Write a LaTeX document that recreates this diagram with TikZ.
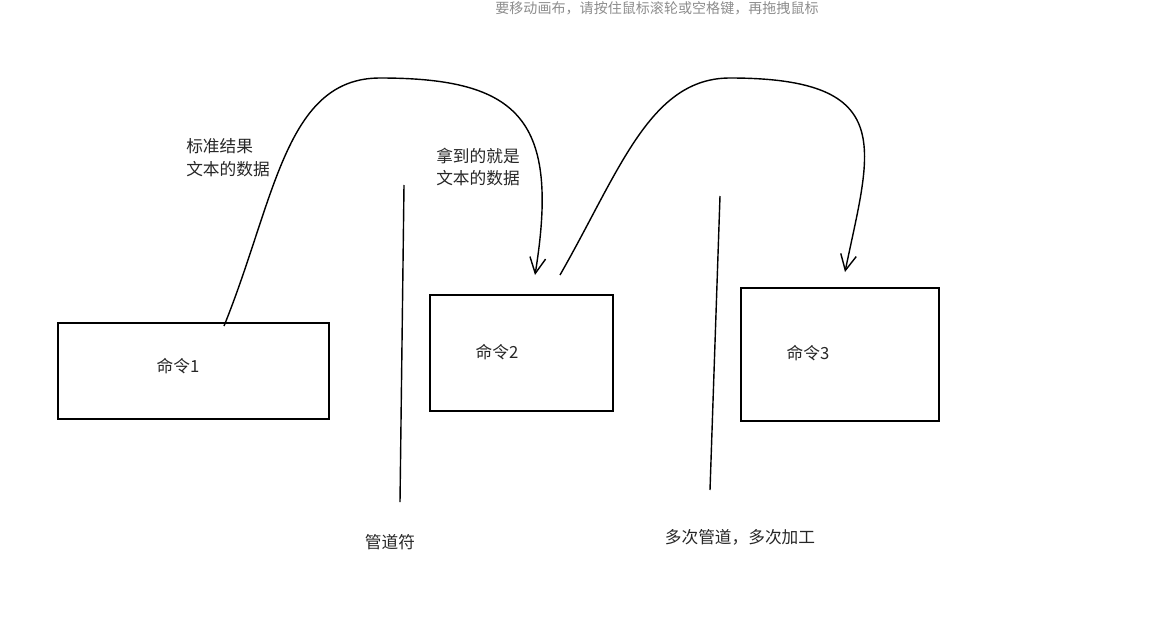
\documentclass[tikz,border=0pt]{standalone}
\usepackage{fontspec}
\setmainfont{Noto Sans CJK SC}
\usetikzlibrary{arrows.meta}
\begin{document}
\begin{tikzpicture}[x=0.02cm,y=-0.02cm]
      \tikzstyle{cmd}=[draw,thick,shape=rectangle,inner sep=0pt]
      \tikzstyle{lbl}=[font=\fontsize{9.5}{13}\selectfont,align=left,text=black!85]
      \tikzstyle{pipe}=[draw,thick]
      \tikzstyle{flow}=[thick,-{Straight Barb[length=9pt,width=9pt]}]
      \useasboundingbox (0,0) rectangle (1149,639);

      \node[font=\fontsize{8}{10}\selectfont,text=black!45,inner sep=1pt] (hint) at (657,8) {要移动画布，请按住鼠标滚轮或空格键，再拖拽鼠标};

      \node[cmd,minimum width=271*0.02cm,minimum height=96*0.02cm] (c1) at (193.5,371) {};
      \node[cmd,minimum width=183*0.02cm,minimum height=116*0.02cm] (c2) at (521.5,353) {};
      \node[cmd,minimum width=198*0.02cm,minimum height=133*0.02cm] (c3) at (840,354.5) {};
      \node[lbl] (t1) at (178,366) {命令1};
      \node[lbl] (t2) at (497,352) {命令2};
      \node[lbl] (t3) at (808,353) {命令3};

      \node[lbl] (l1) at (228,158) {标准结果\\文本的数据};
      \node[lbl] (l2) at (478,167) {拿到的就是\\文本的数据};
      \node[lbl] (l3) at (390,542) {管道符};
      \node[lbl] (l4) at (740,537) {多次管道，多次加工};

      \coordinate (p1a) at (404,185);
      \coordinate (p1b) at (400,502);
      \coordinate (p2a) at (720,196);
      \coordinate (p2b) at (710,490);
      \draw[pipe] (p1a) -- (p1b);
      \draw[pipe] (p2a) -- (p2b);

      \coordinate (s1) at (224,326);
      \coordinate (e1) at (535,275);
      \coordinate (s2) at (560,275);
      \coordinate (e2) at (845,272);
      \draw[flow] (s1) .. controls (275,200) and (285,78) .. (380,78)
                       .. controls (520,78) and (560,120) .. (e1);
      \draw[flow] (s2) .. controls (620,170) and (650,78) .. (730,78)
                       .. controls (900,78) and (870,150) .. (e2);
\end{tikzpicture}
\end{document}
